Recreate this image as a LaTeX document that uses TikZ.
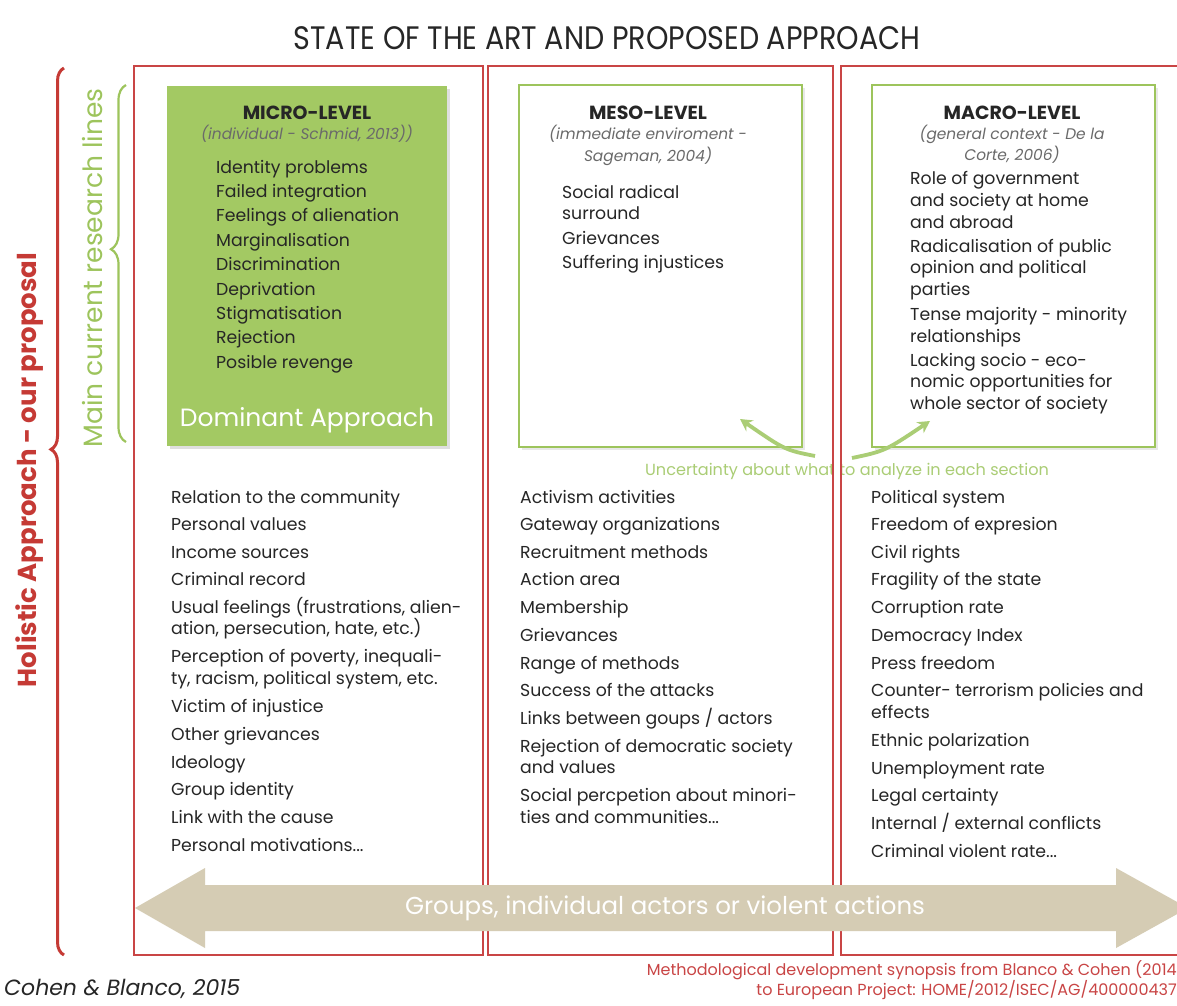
\documentclass[tikz,border=0pt]{standalone}
\usepackage{fontspec}
\setmainfont{Poppins}
\usetikzlibrary{decorations.pathreplacing,arrows.meta,shadows}
\definecolor{boxred}{HTML}{C94545}
\definecolor{bracered}{HTML}{C53A35}
\definecolor{lgreen}{HTML}{A3C963}
\definecolor{ogreen}{HTML}{9DC45C}
\definecolor{tgreen}{HTML}{AACD75}
\definecolor{beige}{HTML}{D5CCB4}
\definecolor{txt}{HTML}{262626}
\definecolor{subgrey}{HTML}{6A6A6A}
\tikzset{
  redbox/.style={draw=boxred, line width=1.6pt, inner sep=0pt},
  greenbox/.style={draw=ogreen, line width=2pt, fill=white, inner sep=0pt,
    drop shadow={opacity=0.18, shadow xshift=3pt, shadow yshift=-3pt}},
  greenfill/.style={fill=lgreen, inner sep=0pt,
    drop shadow={opacity=0.25, shadow xshift=3pt, shadow yshift=-3pt}},
  item/.style={anchor=mid west, inner sep=0pt, text=txt, font=\fontsize{17.3}{20}\selectfont},
  lvl/.style={inner sep=0pt, text=txt, font=\bfseries\fontsize{19}{22}\selectfont},
  sub/.style={anchor=mid, inner sep=0pt, text=subgrey, font=\itshape\fontsize{15.4}{18}\selectfont},
  uarrow/.style={draw=tgreen, line width=3.8pt, -{Stealth[length=12pt,width=13pt]}}
}
\begin{document}
\begin{tikzpicture}[x=1pt,y=-1pt]
\useasboundingbox (0,0) rectangle (1177,1005);
\fill[white] (0,0) rectangle (1177,1005);

% title
\node[inner sep=0pt, text=txt, font=\fontsize{32.5}{36}\selectfont] (title) at (607,38) {\scalebox{0.88}[1]{STATE OF THE ART AND PROPOSED APPROACH}};

% uncertainty text (behind the column gap)
\node[inner sep=0pt, text=tgreen, font=\fontsize{16.1}{19}\selectfont] (unc) at (847,471) {Uncertainty about what to analyze in each section};
\fill[white] (833.5,460) rectangle (840.5,484);

% red columns
\node[redbox, minimum width=349pt, minimum height=889pt] (col1) at (308.5,510.5) {};
\node[redbox, minimum width=345pt, minimum height=889pt] (col2) at (660.5,510.5) {};
\node[redbox, minimum width=349pt, minimum height=889pt] (col3) at (1015.5,510.5) {};

% green boxes
\node[greenfill, minimum width=280pt, minimum height=360pt] (micro) at (307,266) {};
\node[greenbox, minimum width=283pt, minimum height=362pt] (meso) at (660.5,266) {};
\node[greenbox, minimum width=283pt, minimum height=362pt] (macro) at (1013.5,266) {};

% headers
\node[lvl] (microT) at (307,113) {MICRO-LEVEL};
\node[sub] (microS) at (307,137) {(individual - Schmid, 2013))};
\node[lvl] (mesoT) at (648,113) {MESO-LEVEL};
\node[sub] (mesoS1) at (648,137) {(immediate enviroment -};
\node[sub] (mesoS2) at (648,159) {Sageman, 2004)};
\node[lvl] (macroT) at (1012,113) {MACRO-LEVEL};
\node[sub] (macroS1) at (1012,137) {(general context - De la};
\node[sub] (macroS2) at (1012,158) {Corte, 2006)};

% micro list
\foreach \t/\y [count=\i] in {Identity problems/171, Failed integration/195, Feelings of alienation/219,
  Marginalisation/244, Discrimination/268, Deprivation/293, Stigmatisation/317, Rejection/341, Posible revenge/366}
  {\node[item] (mi\i) at (216,\y) {\t};}
\node[inner sep=0pt, text=white, font=\fontsize{25}{29}\selectfont] (dom) at (307,420) {Dominant Approach};

% meso list
\foreach \t/\y [count=\i] in {Social radical/196, surround/217, Grievances/242, Suffering injustices/266}
  {\node[item] (me\i) at (562,\y) {\t};}

% macro list
\foreach \t/\y [count=\i] in {Role of government/182, and society at home/204, and abroad/226,
  Radicalisation of public/250, opinion and political/271, parties/293,
  Tense majority - minority/318, relationships/340,
  Lacking socio - eco-/364, nomic opportunities for/385, whole sector of society/407}
  {\node[item] (ma\i) at (910,\y) {\t};}

% uncertainty arrows
\coordinate (u1s) at (815,456);
\coordinate (u1e) at (740,419);
\coordinate (u2s) at (852,458);
\coordinate (u2e) at (930,421);
\draw[uarrow] (u1s) .. controls (785,450) .. (u1e);
\draw[uarrow] (u2s) .. controls (885,451) .. (u2e);

% lower lists
\foreach \t/\y [count=\i] in {Relation to the community/501, Personal values/528, Income sources/556,
  Criminal record/583, {Usual feelings (frustrations, alien-}/611, {ation, persecution, hate, etc.)}/632,
  {Perception of poverty, inequali-}/660, {ty, racism, political system, etc.}/682,
  Victim of injustice/710, Other grievances/738, Ideology/766, Group identity/793,
  Link with the cause/821, {Personal motivations.{}.{}.}/849}
  {\node[item] (a\i) at (171,\y) {\t};}

\foreach \t/\y [count=\i] in {Activism activities/501, Gateway organizations/528, Recruitment methods/556,
  Action area/583, Membership/611, Grievances/639, Range of methods/667, Success of the attacks/694,
  {Links between goups / actors}/722, Rejection of democratic society/750, and values/771,
  Social percpetion about minori-/799, {ties and communities.{}.{}.}/821}
  {\node[item] (b\i) at (520,\y) {\t};}

\foreach \t/\y [count=\i] in {Political system/501, Freedom of expresion/528, Civil rights/556,
  Fragility of the state/583, Corruption rate/611, Democracy Index/639, Press freedom/667,
  Counter- terrorism policies and/694, effects/716, Ethnic polarization/744, Unemployment rate/772,
  Legal certainty/799, {Internal / external conflicts}/827, {Criminal violent rate.{}.{}.}/855}
  {\node[item] (c\i) at (871,\y) {\t};}

% bottom double arrow
\fill[beige] (135,908) -- (205,868) -- (205,885) -- (1116,885) -- (1116,868) -- (1188,908)
  -- (1116,948) -- (1116,931) -- (205,931) -- (205,948) -- cycle;
\node[inner sep=0pt, text=white, font=\fontsize{24.5}{28}\selectfont] (grp) at (665,908) {Groups, individual actors or violent actions};

% side labels and braces
\node[rotate=90, inner sep=0pt, text=bracered, font=\bfseries\fontsize{26}{30}\selectfont] (hol) at (30,470) {Holistic Approach - our proposal};
\node[rotate=90, inner sep=0pt, text=ogreen, font=\fontsize{26.5}{30}\selectfont] (main) at (93,268) {Main current research lines};
\coordinate (rb1) at (64,955);
\coordinate (rb2) at (64,68);
\draw[bracered, line width=3pt, decorate, decoration={brace, amplitude=13pt, aspect=0.57}] (rb1) -- (rb2);
\coordinate (gb1) at (126,442);
\coordinate (gb2) at (126,85);
\draw[ogreen, line width=2.2pt, decorate, decoration={brace, amplitude=15pt, aspect=0.54}] (gb1) -- (gb2);

% footers
\node[anchor=mid west, inner sep=0pt, text=txt, font=\itshape\fontsize{22}{25}\selectfont] (cite) at (4,993) {Cohen \& Blanco, 2015};
\node[anchor=mid east, inner sep=0pt, text=boxred, font=\fontsize{16}{19}\selectfont] (src1) at (1177,973) {Methodological development synopsis from Blanco \& Cohen (2014};
\node[anchor=mid east, inner sep=0pt, text=boxred, font=\fontsize{16}{19}\selectfont] (src2) at (1177,993) {to European Project: HOME/2012/ISEC/AG/400000437};
\end{tikzpicture}
\end{document}
